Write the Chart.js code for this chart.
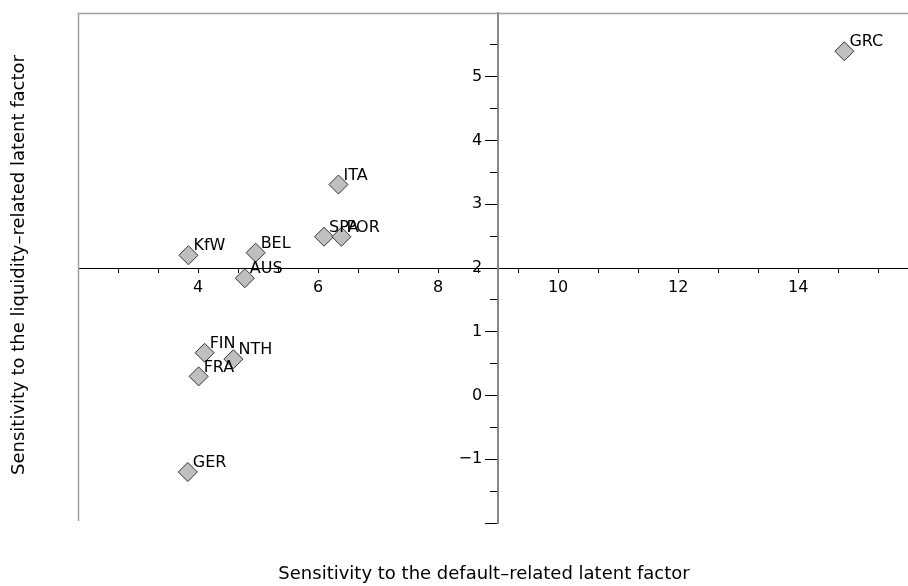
<!DOCTYPE html>
<html><head><meta charset="utf-8">
<script src="https://cdn.jsdelivr.net/npm/chart.js@4/dist/chart.umd.min.js"></script>
<style>html,body{margin:0;padding:0;background:#fff;} canvas{display:block}</style>
</head><body>
<canvas id="c" width="908" height="586"></canvas>
<script>
const countries = ['GRC','ITA','SPA','POR','BEL','KfW','AUS','FIN','NTH','FRA','GER'];
const defaultSensitivity = [14.77, 6.34, 6.10, 6.39, 4.96, 3.84, 4.78, 4.11, 4.59, 4.01, 3.83];
const liquiditySensitivity = [5.40, 3.31, 2.49, 2.49, 2.24, 2.20, 1.84, 0.67, 0.57, 0.30, -1.20];

const xTickValues = [8/3, 10/3, 4, 14/3, 16/3, 6, 20/3, 22/3, 8, 26/3, 28/3, 10, 32/3, 34/3, 12, 38/3, 40/3, 14, 44/3, 46/3];
const xTickLabels = [4, 6, 8, 10, 12, 14];
const yMajorTicks = [-2, -1, 0, 1, 2, 3, 4, 5, 6];
const yMinorTicks = [-1.5, -0.5, 0.5, 1.5, 2.5, 3.5, 4.5, 5.5];
const yTickLabels = [-1, 0, 1, 2, 3, 4, 5];
const xTitle = 'Sensitivity to the default\u2013related latent factor';
const yTitle = 'Sensitivity to the liquidity\u2013related latent factor';

const FAMILY = '"DejaVu Sans", sans-serif';
const fmt = v => (v < 0 ? '\u2212' + Math.abs(v) : String(v));

const framePlugin = {
  id: 'frame',
  beforeDatasetsDraw(chart) {
    const {ctx, chartArea: a} = chart;
    ctx.save();
    ctx.strokeStyle = '#a0a0a0';
    ctx.lineWidth = 1.5;
    ctx.beginPath();
    ctx.moveTo(a.left + 0.5, a.bottom - 2);
    ctx.lineTo(a.left + 0.5, a.top + 0.5);
    ctx.lineTo(a.right, a.top + 0.5);
    ctx.stroke();
    ctx.restore();
  }
};

const labelPlugin = {
  id: 'pointLabels',
  afterDatasetsDraw(chart) {
    const {ctx} = chart;
    const meta = chart.getDatasetMeta(0);
    ctx.save();
    ctx.font = '16px ' + FAMILY;
    ctx.fillStyle = '#000';
    ctx.textAlign = 'left';
    ctx.textBaseline = 'middle';
    meta.data.forEach((pt, i) => {
      ctx.fillText(countries[i], pt.x + 5, pt.y - 9);
    });
    ctx.restore();
  },
  afterDraw(chart) {
    const {ctx, chartArea: a} = chart;
    ctx.save();
    ctx.font = '18px ' + FAMILY;
    ctx.fillStyle = '#000';
    ctx.textAlign = 'center';
    ctx.textBaseline = 'middle';
    ctx.fillText(xTitle, (a.left + a.right) / 2 - 9, 574);
    ctx.translate(19, (a.top + a.bottom) / 2 - 3);
    ctx.rotate(-Math.PI / 2);
    ctx.fillText(yTitle, 0, 0);
    ctx.restore();
  }
};

new Chart(document.getElementById('c'), {
  type: 'scatter',
  data: {
    datasets: [{
      data: defaultSensitivity.map((x, i) => ({x, y: liquiditySensitivity[i]})),
      pointStyle: 'rectRot',
      pointRadius: 9.5,
      pointHoverRadius: 9.5,
      backgroundColor: '#bfbfbf',
      borderColor: '#333',
      borderWidth: 1,
      xAxisID: 'x',
      yAxisID: 'y'
    }]
  },
  options: {
    responsive: false,
    animation: false,
    devicePixelRatio: 1,
    layout: {autoPadding: false, padding: {left: 78, top: 13, right: 0, bottom: 63}},
    plugins: {legend: {display: false}, tooltip: {enabled: false}},
    scales: {
      x: {
        type: 'linear', min: 2, max: 15.83, position: {y: 2},
        afterBuildTicks: s => { s.ticks = xTickValues.map(v => ({value: v})); },
        ticks: {autoSkip: false, maxRotation: 0, padding: 6, color: '#000',
          font: {family: FAMILY, size: 16},
          callback: v => xTickLabels.includes(v) ? String(v) : ''},
        grid: {drawOnChartArea: false, tickLength: 4, color: '#000', lineWidth: 1},
        border: {color: '#000', width: 1}
      },
      y: {
        type: 'linear', min: -2, max: 6, position: {x: 9},
        afterBuildTicks: s => { s.ticks = yMajorTicks.map(v => ({value: v})); },
        ticks: {autoSkip: false, color: '#000', font: {family: FAMILY, size: 16},
          callback: v => yTickLabels.includes(v) ? fmt(v) + '\u2002\u2002' : ''},
        grid: {drawOnChartArea: false, tickLength: 12, color: '#000', lineWidth: 1},
        border: {color: '#888', width: 2}
      },
      y2: {
        type: 'linear', min: -2, max: 6, position: {x: 9},
        afterBuildTicks: s => { s.ticks = yMinorTicks.map(v => ({value: v})); },
        ticks: {autoSkip: false, callback: () => ''},
        grid: {drawOnChartArea: false, tickLength: 8, color: '#000', lineWidth: 1},
        border: {display: false}
      }
    }
  },
  plugins: [framePlugin, labelPlugin]
});
</script>
</body></html>
